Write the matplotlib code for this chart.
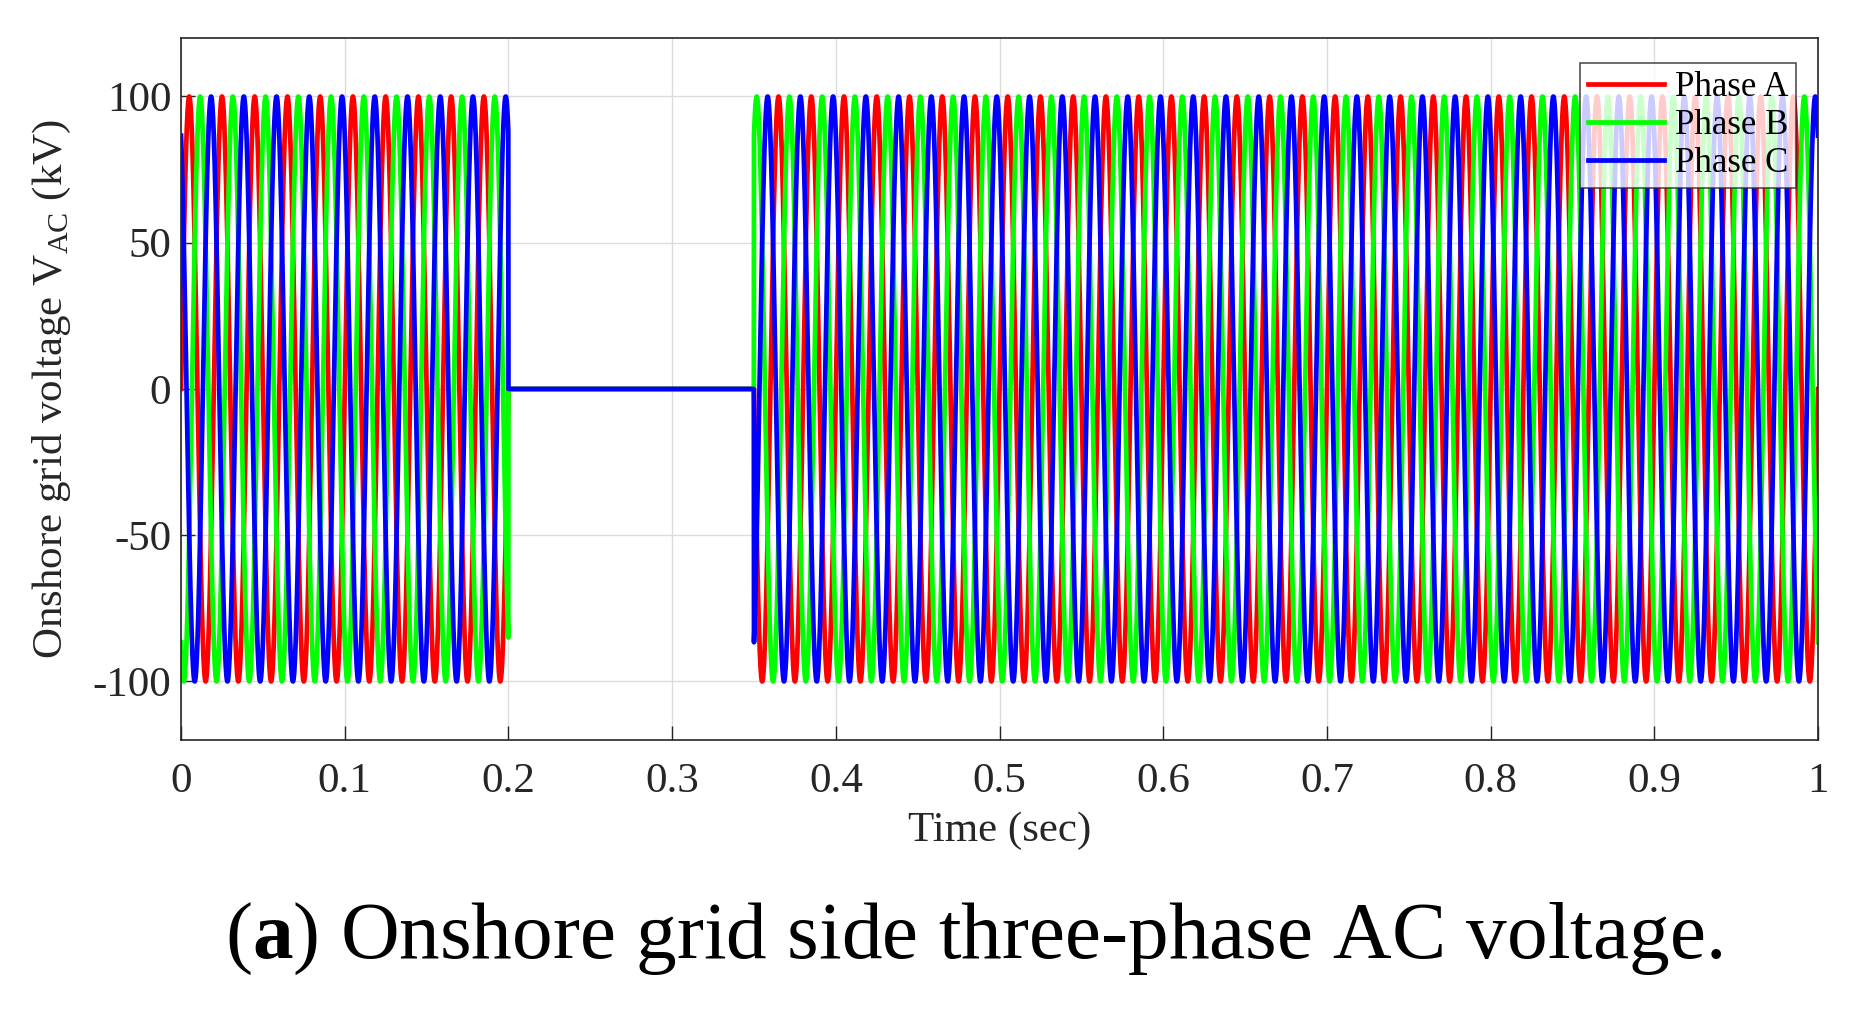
import numpy as np
import matplotlib.pyplot as plt

# signal parameters
phase_names = ["Phase A", "Phase B", "Phase C"]
phase_colors = ["#ff0000", "#00ff00", "#0000ff"]
phase_shift_deg = [0, -120, 120]
amplitude_kv = 100
frequency_hz = 50
fault_window = [0.2, 0.35]
sample_step = 1e-4

x_ticks = [0, 0.1, 0.2, 0.3, 0.4, 0.5, 0.6, 0.7, 0.8, 0.9, 1]
x_tick_labels = ["0", "0.1", "0.2", "0.3", "0.4", "0.5", "0.6", "0.7", "0.8", "0.9", "1"]
y_ticks = [-100, -50, 0, 50, 100]
y_tick_labels = ["-100", "-50", "0", "50", "100"]

t = np.arange(0, 1 + sample_step / 2, sample_step)
fault = (t >= fault_window[0]) & (t < fault_window[1])

plt.rcParams['font.family'] = ['Liberation Serif', 'DejaVu Serif']
plt.rcParams['mathtext.fontset'] = 'custom'
plt.rcParams['mathtext.rm'] = 'Liberation Serif'
plt.rcParams['mathtext.bf'] = 'Liberation Serif:bold'

fig = plt.figure(figsize=(18.57, 10.27), dpi=100)
ax = fig.add_axes([0.0975, 0.2795, 0.8815, 0.6835])

for name, color, shift in zip(phase_names, phase_colors, phase_shift_deg):
    v = amplitude_kv * np.sin(2 * np.pi * frequency_hz * t + np.deg2rad(shift))
    v[fault] = 0
    ax.plot(t, v, color=color, linewidth=3.4, label=name)

ax.set_xlim(0, 1)
ax.set_ylim(-120, 120)
ax.set_xticks(x_ticks)
ax.set_xticklabels(x_tick_labels)
ax.set_yticks(y_ticks)
ax.set_yticklabels(y_tick_labels)
ax.tick_params(axis='both', direction='in', labelsize=31, length=10, width=1,
               colors='#262626', pad=16)
ax.tick_params(axis='y', pad=7)
ax.grid(True, color='#dcdcdc', linewidth=1)
for s in ax.spines.values():
    s.set_color('#262626')
    s.set_linewidth(1.2)

ax.set_xlabel("Time (sec)", fontsize=31, color='#262626', labelpad=8)
ax.set_ylabel(r"Onshore grid voltage V$_{\mathrm{AC}}$ (kV)", fontsize=31,
              color='#262626', labelpad=14)

leg = ax.legend(loc='upper right', fontsize=25, frameon=True, fancybox=False,
                edgecolor='#262626', borderaxespad=0.0, bbox_to_anchor=(0.9865, 0.964),
                handlelength=2.2, handletextpad=0.3, labelspacing=0.15,
                borderpad=0.22)
leg.get_frame().set_linewidth(1.2)
for line in leg.get_lines():
    line.set_linewidth(3.4)

fig.text(0.524, 0.086, r"($\mathbf{a}$) Onshore grid side three-phase AC voltage.",
         fontsize=58.5, ha='center', va='center')

fig.savefig("out.png", dpi=100)
